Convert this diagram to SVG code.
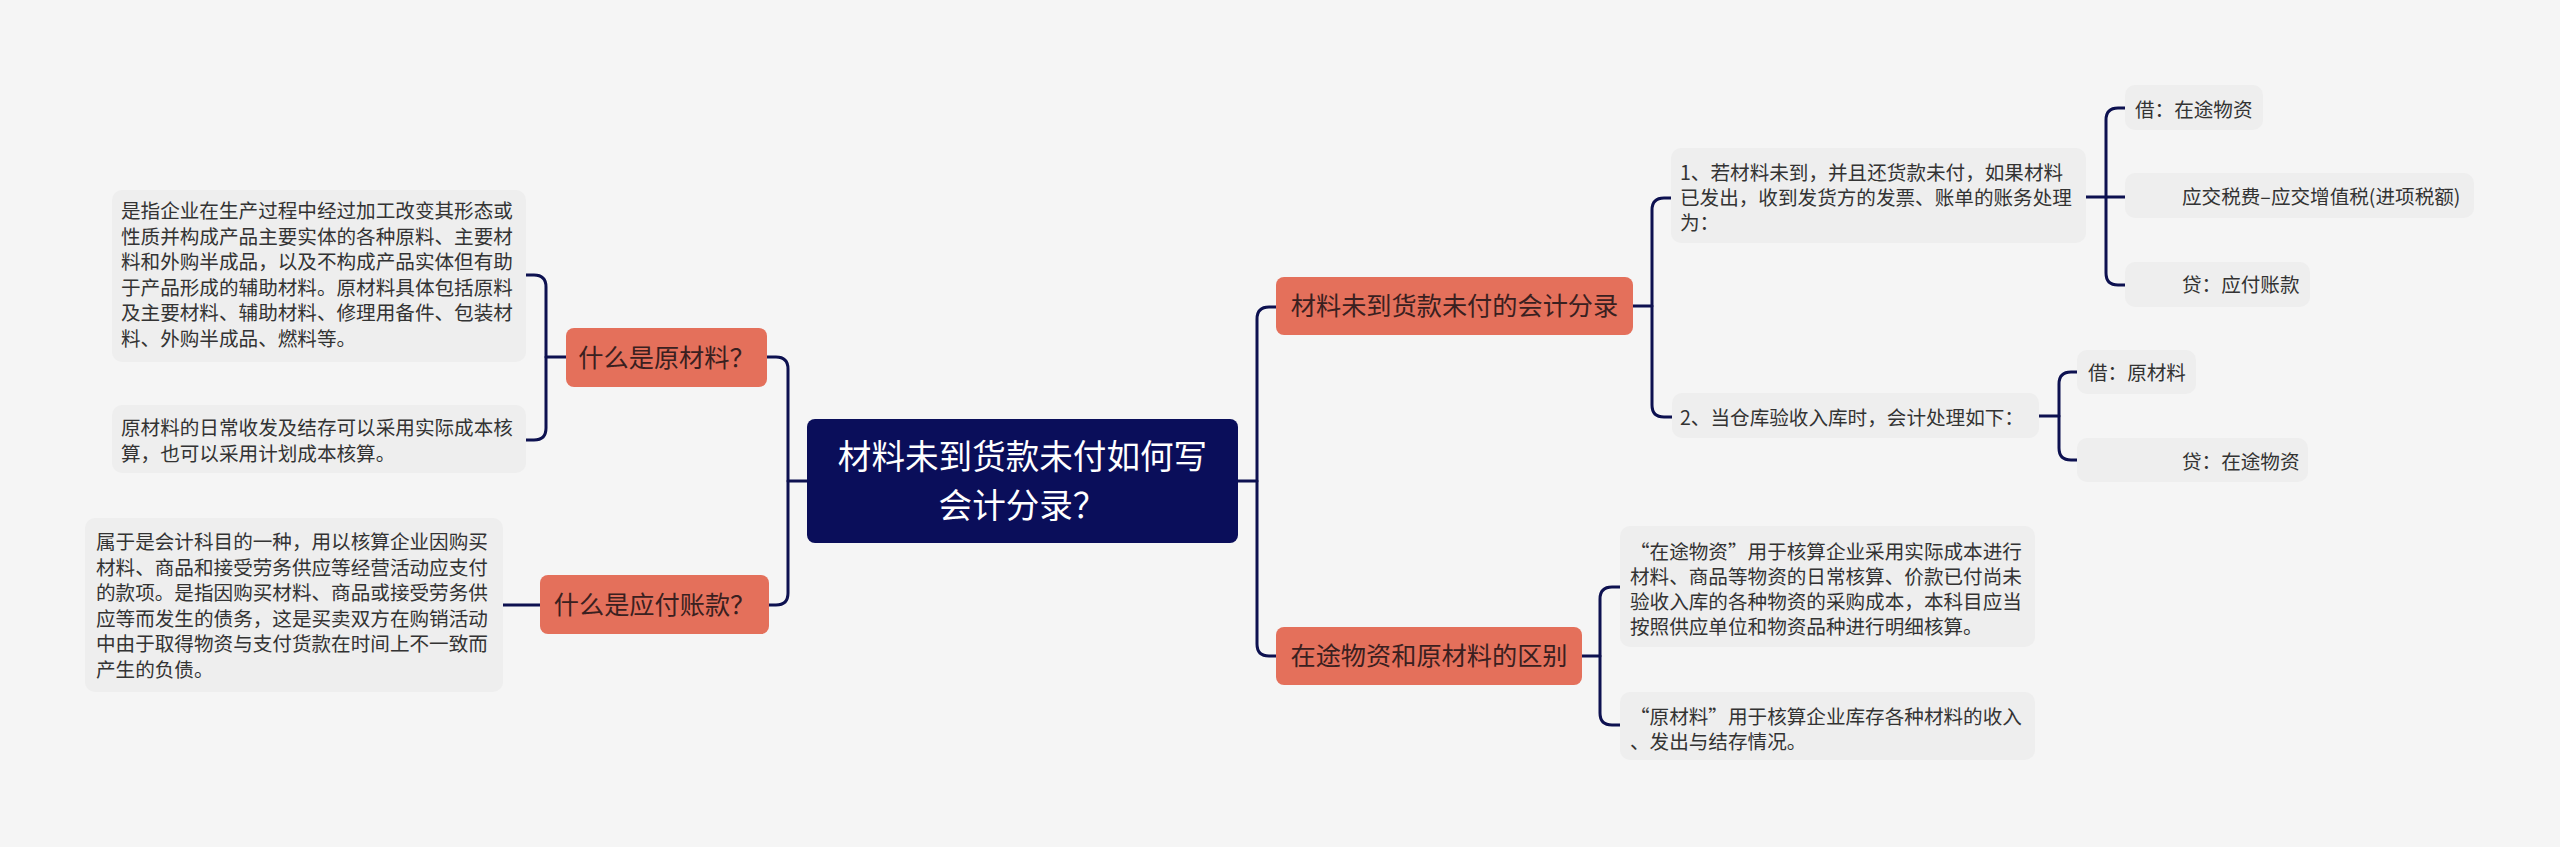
<svg xmlns="http://www.w3.org/2000/svg" width="2560" height="847" viewBox="0 0 2560 847">
<style>
.bg{fill:#f5f5f5}
.root{fill:#0a0e5a}
.l1{fill:#e4705b}
.leaf{fill:#eeeeee}
.conn{fill:none;stroke:#0d1150;stroke-width:3;stroke-linecap:round;stroke-linejoin:round}
text{font-family:"Noto Sans CJK SC","Noto Sans",sans-serif}
.tr{fill:#ffffff;font-size:33.6px;text-anchor:middle}
.t1{fill:#3a2020;font-size:25.2px;text-anchor:middle}
.t2{fill:#333333;font-size:19.6px}
</style>
<rect class="bg" x="0" y="0" width="2560" height="847"/>
<g id="connectors">
<path class="conn" d="M807,481 H788 V369 Q788,357 776,357 H767"/>
<path class="conn" d="M788,481 V593 Q788,605 776,605 H769"/>
<path class="conn" d="M566,357 H546 V287 Q546,275 534,275 H526"/>
<path class="conn" d="M546,357 V428 Q546,440 534,440 H526"/>
<path class="conn" d="M540,605 H503"/>
<path class="conn" d="M1238,481 H1257 V319 Q1257,307 1269,307 H1276"/>
<path class="conn" d="M1257,481 V644 Q1257,656 1269,656 H1276"/>
<path class="conn" d="M1633,306 H1652 V210 Q1652,198 1664,198 H1671"/>
<path class="conn" d="M1652,306 V405 Q1652,417 1664,417 H1672"/>
<path class="conn" d="M2086,197 H2106 V120 Q2106,108 2118,108 H2125"/>
<path class="conn" d="M2106,197 H2125"/>
<path class="conn" d="M2106,197 V273 Q2106,285 2118,285 H2125"/>
<path class="conn" d="M2039,416 H2059 V384 Q2059,372 2071,372 H2077"/>
<path class="conn" d="M2059,416 V448 Q2059,460 2071,460 H2077"/>
<path class="conn" d="M1582,656 H1600 V599 Q1600,587 1612,587 H1620"/>
<path class="conn" d="M1600,656 V713 Q1600,725 1612,725 H1620"/>
</g>
<g id="root">
<rect class="root" x="807" y="419" width="431" height="124" rx="8"/>
<text class="tr" x="1022.5" y="469"><tspan x="1022.5" y="469">材料未到货款未付如何写</tspan><tspan x="1022.5" y="518">会计分录？</tspan></text>
</g>
<g id="n-yuancailiao">
<rect class="l1" x="566" y="328" width="201" height="59" rx="8"/>
<text class="t1" x="666.5" y="366.5">什么是原材料？</text>
</g>
<g id="n-yingfu">
<rect class="l1" x="540" y="575" width="229" height="59" rx="8"/>
<text class="t1" x="654.5" y="613.5">什么是应付账款？</text>
</g>
<g id="n-fenlu">
<rect class="l1" x="1276" y="277" width="357" height="58" rx="8"/>
<text class="t1" x="1454.5" y="315">材料未到货款未付的会计分录</text>
</g>
<g id="n-qubie">
<rect class="l1" x="1276" y="627" width="306" height="58" rx="8"/>
<text class="t1" x="1429" y="665">在途物资和原材料的区别</text>
</g>
<g id="leaf-def">
<rect class="leaf" x="112" y="190" width="414" height="172" rx="10"/>
<text class="t2" x="121" y="218">是指企业在生产过程中经过加工改变其形态或</text>
<text class="t2" x="121" y="243.5">性质并构成产品主要实体的各种原料、主要材</text>
<text class="t2" x="121" y="269">料和外购半成品，以及不构成产品实体但有助</text>
<text class="t2" x="121" y="294.5">于产品形成的辅助材料。原材料具体包括原料</text>
<text class="t2" x="121" y="320">及主要材料、辅助材料、修理用备件、包装材</text>
<text class="t2" x="121" y="345.5">料、外购半成品、燃料等。</text>
</g>
<g id="leaf-hesuan">
<rect class="leaf" x="112" y="405" width="414" height="68" rx="10"/>
<text class="t2" x="121" y="435">原材料的日常收发及结存可以采用实际成本核</text>
<text class="t2" x="121" y="460.5">算，也可以采用计划成本核算。</text>
</g>
<g id="leaf-yingfu">
<rect class="leaf" x="85" y="518" width="418" height="174" rx="10"/>
<text class="t2" x="96" y="549">属于是会计科目的一种，用以核算企业因购买</text>
<text class="t2" x="96" y="574.5">材料、商品和接受劳务供应等经营活动应支付</text>
<text class="t2" x="96" y="600">的款项。是指因购买材料、商品或接受劳务供</text>
<text class="t2" x="96" y="625.5">应等而发生的债务，这是买卖双方在购销活动</text>
<text class="t2" x="96" y="651">中由于取得物资与支付货款在时间上不一致而</text>
<text class="t2" x="96" y="676.5">产生的负债。</text>
</g>
<g id="leaf-step1">
<rect class="leaf" x="1671" y="148" width="415" height="95" rx="10"/>
<text class="t2" x="1680" y="180">1、若材料未到，并且还货款未付，如果材料</text>
<text class="t2" x="1680" y="205">已发出，收到发货方的发票、账单的账务处理</text>
<text class="t2" x="1680" y="230">为：</text>
</g>
<g id="leaf-jie1">
<rect class="leaf" x="2125" y="85" width="138" height="45" rx="10"/>
<text class="t2" x="2135" y="117">借：在途物资</text>
</g>
<g id="leaf-tax">
<rect class="leaf" x="2125" y="173" width="349" height="45" rx="10"/>
<text class="t2" x="2182" y="204">应交税费–应交增值税(进项税额)</text>
</g>
<g id="leaf-dai1">
<rect class="leaf" x="2125" y="262" width="185" height="45" rx="10"/>
<text class="t2" x="2182" y="292">贷：应付账款</text>
</g>
<g id="leaf-step2">
<rect class="leaf" x="1672" y="393" width="367" height="45" rx="10"/>
<text class="t2" x="1680" y="425">2、当仓库验收入库时，会计处理如下：</text>
</g>
<g id="leaf-jie2">
<rect class="leaf" x="2077" y="350" width="119" height="44" rx="10"/>
<text class="t2" x="2088" y="380">借：原材料</text>
</g>
<g id="leaf-dai2">
<rect class="leaf" x="2077" y="438" width="231" height="44" rx="10"/>
<text class="t2" x="2182" y="469">贷：在途物资</text>
</g>
<g id="leaf-zaitu">
<rect class="leaf" x="1620" y="526" width="415" height="121" rx="10"/>
<text class="t2" x="1630" y="559">“在途物资”用于核算企业采用实际成本进行</text>
<text class="t2" x="1630" y="584">材料、商品等物资的日常核算、价款已付尚未</text>
<text class="t2" x="1630" y="609">验收入库的各种物资的采购成本，本科目应当</text>
<text class="t2" x="1630" y="634">按照供应单位和物资品种进行明细核算。</text>
</g>
<g id="leaf-yuan">
<rect class="leaf" x="1620" y="692" width="415" height="68" rx="10"/>
<text class="t2" x="1630" y="724">“原材料”用于核算企业库存各种材料的收入</text>
<text class="t2" x="1630" y="749">、发出与结存情况。</text>
</g>
</svg>
